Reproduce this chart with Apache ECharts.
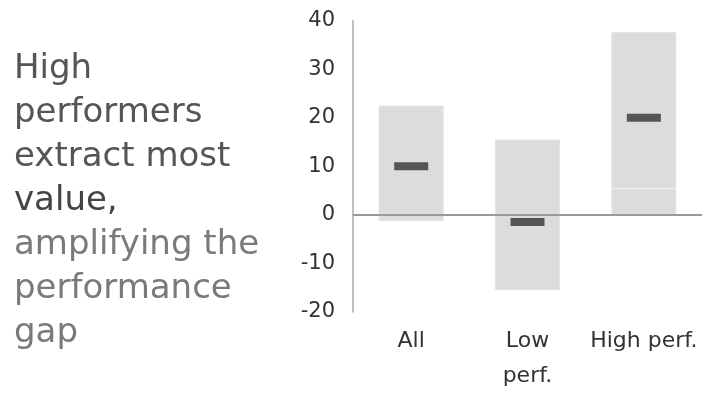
<!DOCTYPE html>
<html>
<head>
<meta charset="utf-8">
<script src="https://cdn.jsdelivr.net/npm/echarts@6/dist/echarts.min.js"></script>
<style>
  html, body { margin: 0; padding: 0; background: #fff; }
  #chart { width: 702px; height: 394px; }
</style>
</head>
<body>
<div id="chart"></div>
<script>
// Categories and values
const categories = ['All', 'Low\nperf.', 'High perf.'];
const rangeLow = [-1.3, -15.5, 5.4];
const rangeHigh = [22.5, 15.5, 37.6];
const medians = [10, -1.5, 20];
const yTicks = { min: -20, max: 40, interval: 10 };

// Stacked segments: the lower one from 0 to rangeLow, the upper one on top of it up to rangeHigh
const lowerSeg = rangeLow.slice();
const upperSeg = rangeHigh.map((h, i) => h - (rangeLow[i] > 0 ? rangeLow[i] : 0));

const FONT = '"DejaVu Sans", "Noto Sans", sans-serif';
const chart = echarts.init(document.getElementById('chart'));

chart.setOption({
  animation: false,
  title: {
    left: 14,
    top: 47,
    padding: 0,
    text: '{a|High}\n{a|performers}\n{a|extract most}\n{v|value,}\n{b|amplifying the}\n{b|performance}\n{b|gap}',
    textStyle: {
      fontWeight: 'normal',
      rich: {
        a: { fontFamily: FONT, fontSize: 34, color: '#555555', fontWeight: 'normal', lineHeight: 44 },
        v: { fontFamily: FONT, fontSize: 34, color: '#444444', fontWeight: 'normal', lineHeight: 44 },
        b: { fontFamily: FONT, fontSize: 34, color: '#7a7a7a', fontWeight: 'normal', lineHeight: 44 }
      }
    }
  },
  grid: { left: 353, right: 0, top: 20.5, bottom: 76.5, containLabel: false },
  xAxis: {
    type: 'category',
    data: categories,
    axisLine: { show: false, onZero: false },
    axisTick: { show: false },
    axisLabel: {
      fontFamily: FONT, fontSize: 22, color: '#333333',
      lineHeight: 35, margin: 12, interval: 0
    }
  },
  yAxis: {
    type: 'value',
    min: yTicks.min, max: yTicks.max, interval: yTicks.interval,
    axisLine: { show: true, lineStyle: { color: '#aaaaaa', width: 1.5 } },
    axisTick: { show: false },
    splitLine: { show: false },
    axisLabel: {
      fontFamily: FONT, fontSize: 21, color: '#333333', margin: 18,
      padding: [9, 0, 0, 0]
    }
  },
  series: [
    {
      type: 'bar', stack: 'range', data: lowerSeg, barWidth: 65,
      itemStyle: { color: '#dcdcdc', borderColor: '#e4e4e4', borderWidth: 1 },
      markLine: {
        silent: true, symbol: 'none', label: { show: false },
        lineStyle: { color: '#9a9a9a', width: 2, type: 'solid' },
        data: [{ yAxis: 0 }]
      },
      z: 2
    },
    {
      type: 'bar', stack: 'range', data: upperSeg, barWidth: 65,
      itemStyle: { color: '#dcdcdc', borderColor: '#e4e4e4', borderWidth: 1 },
      z: 2
    },
    {
      type: 'scatter', data: medians,
      symbol: 'rect', symbolSize: [34, 8],
      itemStyle: { color: '#555555', opacity: 1 },
      z: 5
    }
  ]
});
</script>
</body>
</html>
